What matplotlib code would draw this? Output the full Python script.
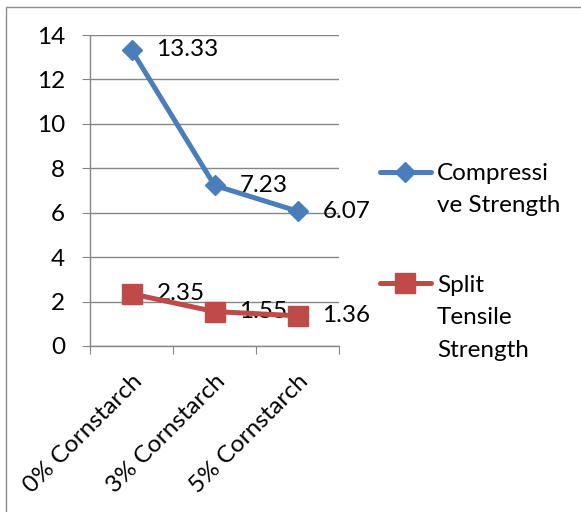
import matplotlib.pyplot as plt
from matplotlib.lines import Line2D
from matplotlib.patches import Rectangle

# strength results for the cornstarch mixes
mixes = ["0% Cornstarch", "3% Cornstarch", "5% Cornstarch"]
compressive = [13.33, 7.23, 6.07]
split_tensile = [2.35, 1.55, 1.36]
y_ticks = [0, 2, 4, 6, 8, 10, 12, 14]

BLUE = "#4A7EBB"
RED = "#BE4B48"
GRID = "#868686"
FONT = "Lato"
FS = 17.5

plt.rcParams["font.family"] = [FONT, "DejaVu Sans"]

fig = plt.figure(figsize=(5.81, 5.12), dpi=100)
W, H = 581, 512

def fx(px):
    return px / W

def fy(py):
    return 1 - py / H

# outer chart frame
fig.add_artist(Rectangle((fx(6), fy(600)), fx(700), fy(7) - fy(600),
                         transform=fig.transFigure, fill=False,
                         edgecolor="#8c8c8c", lw=1.0))

ax = fig.add_axes([fx(90), fy(346), fx(339) - fx(90), fy(35) - fy(346)])
x = range(len(mixes))

ax.plot(x, compressive, color=BLUE, lw=3.6, marker="D", ms=10.5,
        solid_capstyle="round", zorder=3)
ax.plot(x, split_tensile, color=RED, lw=3.6, marker="s", ms=14,
        solid_capstyle="round", zorder=3)

# value labels to the right of each point
for xi, v in zip(x, compressive):
    ax.annotate(f"{v:.2f}", (xi, v), xytext=(18, 0), textcoords="offset points",
                va="center", ha="left", fontsize=FS, zorder=4)
for xi, v in zip(x, split_tensile):
    ax.annotate(f"{v:.2f}", (xi, v), xytext=(18, 0), textcoords="offset points",
                va="center", ha="left", fontsize=FS, zorder=2)

ax.set_xlim(-0.5, len(mixes) - 0.5)
ax.set_ylim(0, 14)
ax.set_yticks(y_ticks)
ax.set_yticklabels([str(t) for t in y_ticks], fontsize=FS)
ax.yaxis.grid(True, color=GRID, lw=1.0)
ax.set_axisbelow(True)

# category boundaries carry the ticks, labels sit on the centres
ax.set_xticks([i - 0.5 for i in range(len(mixes) + 1)])
ax.set_xticklabels([])
ax.set_xticks(list(x), minor=True)
ax.set_xticklabels(mixes, minor=True, rotation=45, ha="right",
                   rotation_mode="anchor", fontsize=FS)
ax.tick_params(axis="x", which="major", length=6, color=GRID, direction="out")
ax.tick_params(axis="x", which="minor", length=0, pad=18)
ax.tick_params(axis="y", length=6, color=GRID, pad=12)

for s in ["top", "right"]:
    ax.spines[s].set_visible(False)
for s in ["left", "bottom"]:
    ax.spines[s].set_color(GRID)
    ax.spines[s].set_linewidth(1.0)

# legend to the right of the plot, labels wrapped as in the legend box
legend_items = [
    (BLUE, "D", 10.5, 172, ["Compressi", "ve Strength"], 180),
    (RED, "s", 14, 283, ["Split", "Tensile", "Strength"], 292),
]
for color, mk, ms, py, lines, base in legend_items:
    fig.add_artist(Line2D([fx(380), fx(431)], [fy(py), fy(py)],
                          transform=fig.transFigure, color=color, lw=3.6,
                          solid_capstyle="round"))
    fig.add_artist(Line2D([fx(405)], [fy(py)], transform=fig.transFigure,
                          color=color, marker=mk, ms=ms, lw=0))
    for i, line in enumerate(lines):
        fig.text(fx(437), fy(base + 32.5 * i), line, fontsize=FS,
                 va="baseline", ha="left")

fig.savefig("out.png", dpi=100)
